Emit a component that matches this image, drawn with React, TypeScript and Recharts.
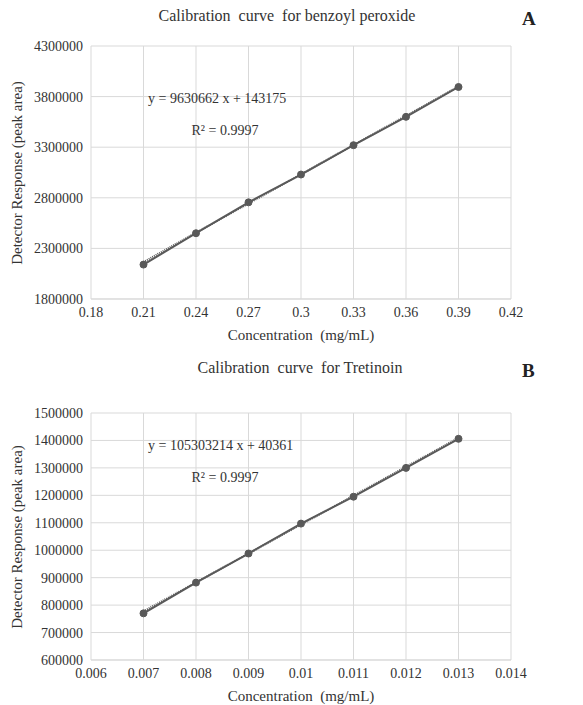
import { LineChart, Line, XAxis, YAxis, CartesianGrid, ReferenceLine } from 'recharts';

const bpoConc = [0.21, 0.24, 0.27, 0.3, 0.33, 0.36, 0.39];
const bpoResponse = [2140000, 2450000, 2755000, 3030000, 3320000, 3600000, 3895000];
const bpoXTicks = [0.18, 0.21, 0.24, 0.27, 0.3, 0.33, 0.36, 0.39, 0.42];
const bpoYTicks = [1800000, 2300000, 2800000, 3300000, 3800000, 4300000];
const bpoFit = { slope: 9630662, intercept: 143175, r2: '0.9997' };

const treConc = [0.007, 0.008, 0.009, 0.01, 0.011, 0.012, 0.013];
const treResponse = [770000, 882000, 988000, 1097000, 1195000, 1300000, 1406000];
const treXTicks = [0.006, 0.007, 0.008, 0.009, 0.01, 0.011, 0.012, 0.013, 0.014];
const treYTicks = [600000, 700000, 800000, 900000, 1000000, 1100000, 1200000, 1300000, 1400000, 1500000];
const treFit = { slope: 105303214, intercept: 40361, r2: '0.9997' };

const FONT = '"Liberation Serif", "Times New Roman", serif';
const INK = '#595959';
const TEXT = '#333';

interface CurveProps {
  top: number;
  height: number;
  marginTop: number;
  conc: number[];
  response: number[];
  xTicks: number[];
  yTicks: number[];
  fit: { slope: number; intercept: number; r2: string };
  title: string;
  titleCenter: number;
  letter: string;
  eqTop: number;
}

const Curve = ({ top, height, marginTop, conc, response, xTicks, yTicks, fit, title, titleCenter, letter, eqTop }: CurveProps) => {
  const data = conc.map((c, i) => ({ c, r: response[i] }));
  const x0 = conc[0];
  const x1 = conc[conc.length - 1];
  const tick = { fill: TEXT, fontSize: 14, fontFamily: FONT };
  const plotTop = top + marginTop;
  const plotBottom = top + height - 45;

  return (
    <>
      <div style={{ position: 'absolute', left: 0, top, width: 583, height }}>
        <LineChart
          width={583}
          height={height}
          data={data}
          margin={{ top: marginTop, right: 72, left: 0, bottom: 15 }}
        >
          <CartesianGrid stroke="#d9d9d9" strokeWidth={1} />
          <XAxis
            type="number"
            dataKey="c"
            domain={[xTicks[0], xTicks[xTicks.length - 1]]}
            ticks={xTicks}
            tick={tick}
            axisLine={{ stroke: '#d9d9d9' }}
            tickLine={false}
            height={30}
            interval={0}
          />
          <YAxis
            type="number"
            domain={[yTicks[0], yTicks[yTicks.length - 1]]}
            ticks={yTicks}
            tick={tick}
            axisLine={false}
            tickLine={false}
            width={91}
            interval={0}
          />
          <ReferenceLine
            segment={[
              { x: x0, y: fit.slope * x0 + fit.intercept },
              { x: x1, y: fit.slope * x1 + fit.intercept },
            ]}
            stroke={INK}
            strokeDasharray="1 1"
            strokeWidth={2}
          />
          <Line
            dataKey="r"
            stroke={INK}
            strokeWidth={2}
            dot={{ r: 3.5, fill: INK, stroke: INK, strokeWidth: 1 }}
            isAnimationActive={false}
          />
        </LineChart>
      </div>
      <div style={{ position: 'absolute', left: titleCenter - 200, width: 400, top: top + 7, textAlign: 'center', fontFamily: FONT, fontSize: 16, color: TEXT, whiteSpace: 'pre' }}>
        {title}
      </div>
      <div style={{ position: 'absolute', left: 522, top: top + 8, fontFamily: FONT, fontSize: 19, fontWeight: 'bold', color: '#222' }}>
        {letter}
      </div>
      <div style={{ position: 'absolute', left: 148, top: eqTop, fontFamily: FONT, fontSize: 14, color: TEXT }}>
        y = {fit.slope} x + {fit.intercept}
      </div>
      <div style={{ position: 'absolute', left: 150, width: 150, top: eqTop + 32, textAlign: 'center', fontFamily: FONT, fontSize: 14, color: TEXT }}>
        R² = {fit.r2}
      </div>
      <div style={{ position: 'absolute', left: 91, width: 420, top: plotBottom + 28, textAlign: 'center', fontFamily: FONT, fontSize: 15, color: TEXT, whiteSpace: 'pre' }}>
        {'Concentration  (mg/mL)'}
      </div>
      <div
        style={{
          position: 'absolute',
          left: 17,
          top: (plotTop + plotBottom) / 2,
          transform: 'translate(-50%, -50%) rotate(-90deg)',
          whiteSpace: 'nowrap',
          fontFamily: FONT,
          fontSize: 15,
          color: TEXT,
        }}
      >
        Detector Response (peak area)
      </div>
    </>
  );
};

export default function App() {
  return (
    <div style={{ position: 'absolute', left: 0, top: 0, width: 583, height: 705, background: '#fff', overflow: 'hidden' }}>
      <Curve
        top={0}
        height={344}
        marginTop={46}
        conc={bpoConc}
        response={bpoResponse}
        xTicks={bpoXTicks}
        yTicks={bpoYTicks}
        fit={bpoFit}
        title={'Calibration  curve  for benzoyl peroxide'}
        titleCenter={287}
        letter="A"
        eqTop={91}
      />
      <Curve
        top={352}
        height={353}
        marginTop={61}
        conc={treConc}
        response={treResponse}
        xTicks={treXTicks}
        yTicks={treYTicks}
        fit={treFit}
        title={'Calibration  curve  for Tretinoin'}
        titleCenter={300}
        letter="B"
        eqTop={438}
      />
    </div>
  );
}
